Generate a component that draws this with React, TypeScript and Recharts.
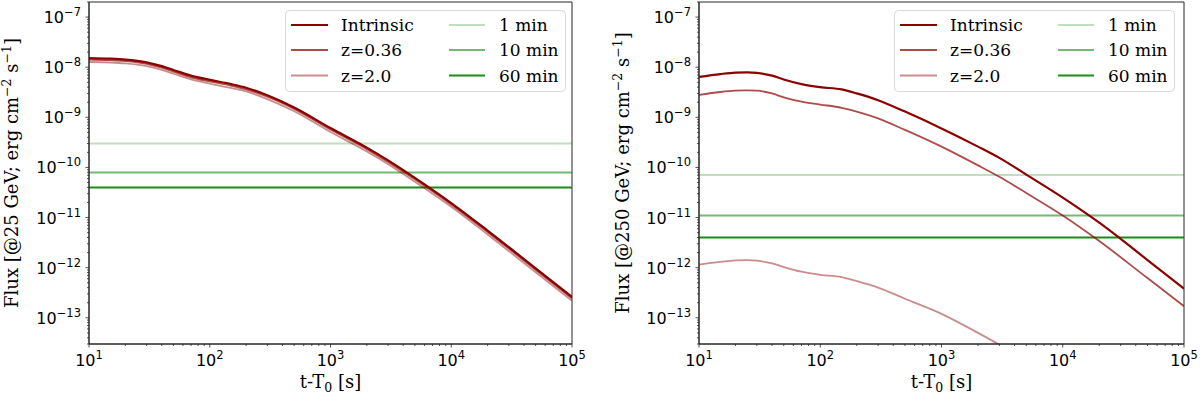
import React from "react";
import {
  LineChart,
  Line,
  XAxis,
  YAxis,
  ReferenceLine,
  ReferenceArea,
  Legend,
  Label,
} from "recharts";

// time after T0 [s]
const timesLeft = [10, 15, 20, 30, 40, 50, 70, 100, 150, 200, 300, 500, 1000, 2000, 3000, 5000, 10000, 20000, 50000, 100000];
const timesRight = [10, 15, 20, 25, 30, 40, 50, 70, 100, 150, 200, 300, 500, 1000, 2000, 3000, 5000, 10000, 20000, 50000, 100000];

// flux @25 GeV
const intrinsic25 = [1.52e-8, 1.48e-8, 1.42e-8, 1.25e-8, 1.05e-8, 8.8e-9, 6.8e-9, 5.6e-9, 4.6e-9, 3.9e-9, 2.75e-9, 1.57e-9, 6.1e-10, 2.48e-10, 1.38e-10, 6.2e-11, 1.95e-11, 5.5e-12, 9.7e-13, 2.6e-13];
const z036_25 = [1.42e-8, 1.38e-8, 1.33e-8, 1.17e-8, 9.8e-9, 8.2e-9, 6.3e-9, 5.2e-9, 4.3e-9, 3.6e-9, 2.57e-9, 1.47e-9, 5.7e-10, 2.32e-10, 1.29e-10, 5.8e-11, 1.82e-11, 5.15e-12, 9.1e-13, 2.43e-13];
const z20_25 = [1.27e-8, 1.24e-8, 1.19e-8, 1.05e-8, 8.8e-9, 7.4e-9, 5.7e-9, 4.7e-9, 3.85e-9, 3.3e-9, 2.31e-9, 1.32e-9, 5.1e-10, 2.08e-10, 1.16e-10, 5.2e-11, 1.64e-11, 4.6e-12, 8.1e-13, 2.18e-13];

// flux @250 GeV
const intrinsic250 = [6.4e-9, 7.3e-9, 7.8e-9, 7.9e-9, 7.7e-9, 6.8e-9, 5.7e-9, 4.6e-9, 4.0e-9, 3.6e-9, 3.0e-9, 2.2e-9, 1.3e-9, 6.0e-10, 2.6e-10, 1.55e-10, 7.2e-11, 2.5e-11, 7.9e-12, 1.42e-12, 3.8e-13];
const z036_250 = [2.8e-9, 3.2e-9, 3.4e-9, 3.45e-9, 3.4e-9, 3.0e-9, 2.5e-9, 2.05e-9, 1.8e-9, 1.55e-9, 1.3e-9, 9.5e-10, 5.6e-10, 2.6e-10, 1.1e-10, 6.5e-11, 3.1e-11, 1.1e-11, 3.4e-12, 6.2e-13, 1.7e-13];
const z20_250 = [1.15e-12, 1.3e-12, 1.4e-12, 1.42e-12, 1.38e-12, 1.22e-12, 1.03e-12, 8.3e-13, 7.2e-13, 6.5e-13, 5.4e-13, 4.0e-13, 2.4e-13, 1.2e-13, 5.0e-14, 2.9e-14, 1.3e-14, null, null, null, null];

// sensitivity for 1, 10, 60 min
const sens25 = [3.0e-10, 7.9e-11, 4.0e-11];
const sens250 = [7.1e-11, 1.1e-11, 4.0e-12];
const sensLabels = ["1 min", "10 min", "60 min"];
const seriesLabels = ["Intrinsic", "z=0.36", "z=2.0"];

const xMajor = [10, 100, 1000, 10000, 100000];
const yMajor = [1e-13, 1e-12, 1e-11, 1e-10, 1e-9, 1e-8, 1e-7];
const xDomain = [10, 100000];
const yDomain = [3e-14, 2e-7];

const minorTicks = (majors: number[], lo: number, hi: number) => {
  const out: number[] = [];
  [majors[0] / 10, ...majors].forEach((m) => {
    for (let k = 1; k < 10; k++) {
      const v = m * k;
      if (v >= lo * 0.999 && v <= hi * 1.001) out.push(v);
    }
  });
  return out;
};
const xTicks = minorTicks(xMajor, xDomain[0], xDomain[1]);
const yTicks = minorTicks(yMajor, yDomain[0], yDomain[1]);

const redStroke = ["#8b0000", "#8b0000", "#8b0000"];
const redOpacity = [1, 0.7, 0.45];
const greenOpacity = [0.25, 0.55, 0.9];
const SERIF = "DejaVu Serif";
const SANS = "DejaVu Sans";
const AX = "#262626";

const isMajor = (v: number) => {
  const l = Math.log10(v);
  return Math.abs(l - Math.round(l)) < 1e-6;
};

const XTick = (props: any) => {
  const { x, y, payload } = props;
  const v = payload.value;
  const major = isMajor(v);
  return (
    <g>
      <line x1={x} x2={x} y1={y} y2={y + (major ? 3.5 : 2)} stroke={AX} strokeWidth={0.8} />
      {major && (
        <text x={x} y={y + 22} textAnchor="middle" fontFamily={SANS} fontSize={16} fill="#000">
          10
          <tspan dy={-7} fontSize={11.5}>{Math.round(Math.log10(v))}</tspan>
        </text>
      )}
    </g>
  );
};

const YTick = (props: any) => {
  const { x, y, payload } = props;
  const v = payload.value;
  const major = isMajor(v);
  const e = Math.round(Math.log10(v));
  return (
    <g>
      <line x1={x} x2={x - (major ? 3.5 : 2)} y1={y} y2={y} stroke={AX} strokeWidth={0.8} />
      {major && (
        <text x={x - 8} y={y + 6} textAnchor="end" fontFamily={SANS} fontSize={16} fill="#000">
          10
          <tspan dy={-7} fontSize={11.5}>{"\u2212" + Math.abs(e)}</tspan>
        </text>
      )}
    </g>
  );
};

const makeYLabel = (gev: string, baseX: number) => (props: any) => {
  const vb = props.viewBox || {};
  const cy = vb.y + vb.height / 2;
  return (
    <text transform="rotate(-90)" x={-cy} y={baseX} textAnchor="middle" fontFamily={SERIF} fontSize={18} fill="#000">
      {`Flux [@${gev} GeV; erg cm`}
      <tspan dy={-7} fontSize={12.5}>{"\u22122"}</tspan>
      <tspan dy={7}>{" s"}</tspan>
      <tspan dy={-7} fontSize={12.5}>{"\u22121"}</tspan>
      <tspan dy={7}>{"]"}</tspan>
    </text>
  );
};

const XLabel = (props: any) => {
  const vb = props.viewBox || {};
  const cx = vb.x + vb.width / 2;
  return (
    <text x={cx} y={388} textAnchor="middle" fontFamily={SERIF} fontSize={18} fill="#000">
      t-T
      <tspan dy={4} fontSize={12.5}>0</tspan>
      <tspan dy={-4}>{" [s]"}</tspan>
    </text>
  );
};

const LegendBox = () => {
  const rows = [15, 40, 65.5];
  return (
    <svg width={281} height={82} style={{ display: "block" }}>
      <rect x={0.5} y={0.5} width={280} height={81} rx={4} fill="#fff" fillOpacity={0.8} stroke="#d9d9d9" />
      {seriesLabels.map((s, i) => (
        <g key={s}>
          <line x1={6} x2={43} y1={rows[i]} y2={rows[i]} stroke={redStroke[i]} strokeOpacity={redOpacity[i]} strokeWidth={2} />
          <text x={56} y={rows[i] + 6} fontFamily={SERIF} fontSize={17} fill="#000">{s}</text>
        </g>
      ))}
      {sensLabels.map((s, i) => (
        <g key={s}>
          <line x1={164} x2={200} y1={rows[i]} y2={rows[i]} stroke="#008000" strokeOpacity={greenOpacity[i]} strokeWidth={2} />
          <text x={214} y={rows[i] + 6} fontFamily={SERIF} fontSize={17} fill="#000">{s}</text>
        </g>
      ))}
    </svg>
  );
};

type PanelProps = {
  times: number[];
  series: (number | null)[][];
  sens: number[];
  gev: string;
  yAxisWidth: number;
  rightMargin: number;
  labelX: number;
  legendLeft: number;
};

const Panel: React.FC<PanelProps> = ({ times, series, sens, gev, yAxisWidth, rightMargin, labelX, legendLeft }) => {
  const data = times.map((t, i) => ({
    t,
    s0: series[0][i],
    s1: series[1][i],
    s2: series[2][i],
  }));
  return (
    <LineChart width={600} height={396} data={data} margin={{ top: 2, right: rightMargin, bottom: 0, left: 0 }}>
      <XAxis
        dataKey="t"
        type="number"
        scale="log"
        domain={xDomain}
        allowDataOverflow
        ticks={xTicks}
        interval={0}
        tick={<XTick />}
        tickSize={0}
        tickMargin={0}
        tickLine={false}
        axisLine={{ stroke: AX, strokeWidth: 1 }}
        height={52}
      >
        <Label content={XLabel} />
      </XAxis>
      <YAxis
        type="number"
        scale="log"
        domain={yDomain}
        allowDataOverflow
        ticks={yTicks}
        interval={0}
        tick={<YTick />}
        tickSize={0}
        tickMargin={0}
        tickLine={false}
        axisLine={{ stroke: AX, strokeWidth: 1 }}
        width={yAxisWidth}
      >
        <Label content={makeYLabel(gev, labelX)} />
      </YAxis>
      <ReferenceArea x1={xDomain[0]} x2={xDomain[1]} y1={yDomain[0]} y2={yDomain[1]} fill="none" stroke={AX} strokeWidth={1} />
      {sens.map((v, i) => (
        <ReferenceLine key={i} y={v} stroke="#008000" strokeOpacity={greenOpacity[i]} strokeWidth={2} />
      ))}
      {[2, 1, 0].map((i) => (
        <Line
          key={i}
          dataKey={"s" + i}
          type="monotone"
          stroke={redStroke[i]}
          strokeOpacity={redOpacity[i]}
          strokeWidth={i === 0 ? 2.2 : 1.8}
          dot={false}
          isAnimationActive={false}
          connectNulls={false}
        />
      ))}
      <Legend
        layout="vertical"
        align="center"
        verticalAlign="middle"
        content={<LegendBox />}
        wrapperStyle={{ left: legendLeft, top: 10, width: 281, height: 82 }}
      />
    </LineChart>
  );
};

export default function App() {
  return (
    <div style={{ position: "absolute", left: 0, top: 0, width: 1200, height: 396, background: "#fff", display: "flex" }}>
      <Panel
        times={timesLeft}
        series={[intrinsic25, z036_25, z20_25]}
        sens={sens25}
        gev="25"
        yAxisWidth={89}
        rightMargin={28}
        labelX={18}
        legendLeft={285}
      />
      <Panel
        times={timesRight}
        series={[intrinsic250, z036_250, z20_250]}
        sens={sens250}
        gev="250"
        yAxisWidth={99}
        rightMargin={16}
        labelX={29}
        legendLeft={294}
      />
    </div>
  );
}
